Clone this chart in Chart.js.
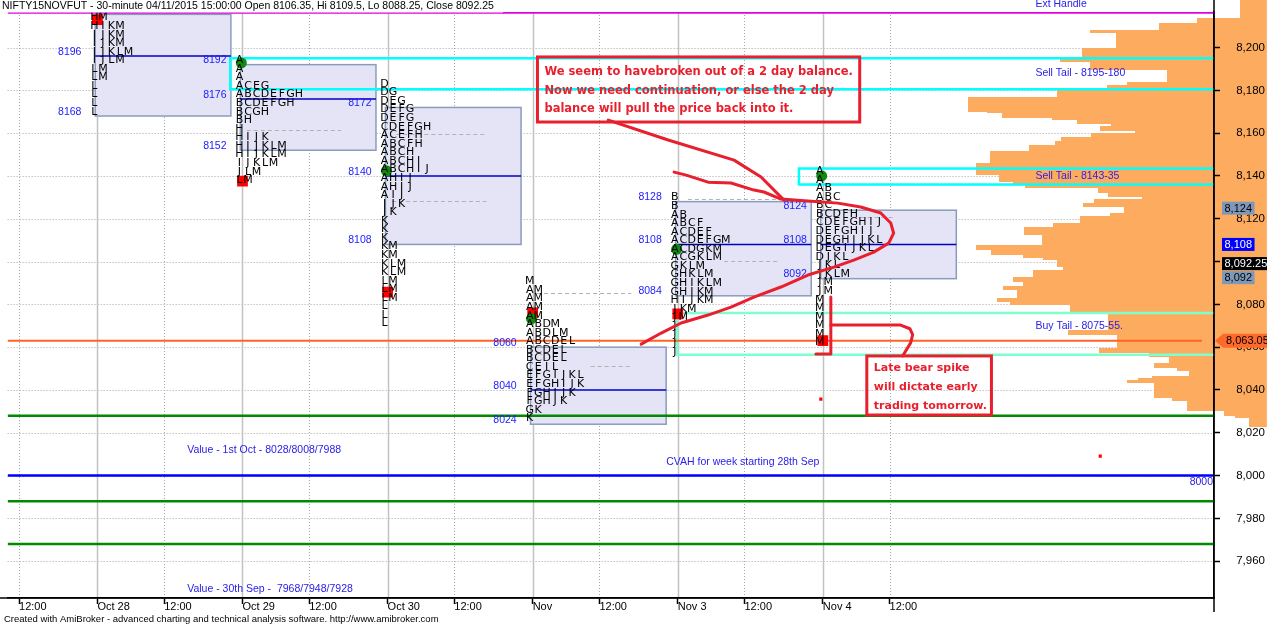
<!DOCTYPE html>
<html><head><meta charset="utf-8">
<script src="https://cdn.jsdelivr.net/npm/chart.js@4.4.1/dist/chart.umd.min.js"></script>
<style>html,body{margin:0;padding:0;background:#fff;overflow:hidden}</style>
</head><body>
<canvas id="c" width="1267" height="626" style="width:1267px;height:626px;display:block"></canvas>
<script>
// ---------- axes ----------
const X_MIN = 0.381, X_MAX = 8.696;          // days (Oct 28 = 1)
const Y_MIN = 7942.8, Y_MAX = 8216.6;
const xTickValues = [0.46,1,1.46,2,2.46,3,3.46,4,4.46,5,5.46,6,6.46];
const xTickLabels = ['12:00','Oct 28','12:00','Oct 29','12:00','Oct 30','12:00','Nov','12:00','Nov 3','12:00','Nov 4','12:00'];
const yTickValues = [7960,7980,8000,8020,8040,8060,8080,8100,8120,8140,8160,8180,8200];

// ---------- TPO profiles ----------
const dayPos = [1,2,3,4,5,6];
const tpoTop = [8214, 8194, 8183, 8090.7, 8129.9, 8142.2];
const tpoStep = 4;
const tpoOct28 = ['HM','HIKM','IJKM','IJKM','IJKLM','IJLM','LM','LM','L','L','L','L'];
const tpoOct29 = ['A','A','A','ACEG','ABCDEFGH','BCDEFGH','BCGH','BH','H','HIJK','HIJKLM','HIJKLM','IJKLM','JLM','LM'];
const tpoOct30 = ['D','DG','DEG','DEFG','DEFG','CDEFGH','ACEFH','ABCFH','ABCH','ABCHI','ABCHIJ','AHIJ','AHIJ','AIJ','IJK','JK','K','K','K','KM','KM','KLM','KLM','LM','LM','LM','L','L','L'];
const tpoNov2  = ['M','AM','AM','AM','AM','ABDM','ABDLM','ABCDEL','BCDEL','BCDEL','CEIL','EFGIJKL','EFGHIJK','FGHIJK','FGHJK','GK','K'];
const tpoNov3  = ['B','B','AB','ABCF','ACDEF','ACDEFGM','ACDGKM','ACGKLM','GKLM','GHKLM','GHIKLM','GHIKM','HIJKM','JKM','JM','J','J','J','J'];
const tpoNov4  = ['A','A','AB','ABC','BC','BCDFH','CDEFGHIJ','DEFGHIJ','DEGHIJKL','DEGIJKL','DJKL','JKL','JKLM','JM','JM','M','M','M','M','M','M'];
const tpoRows = [tpoOct28, tpoOct29, tpoOct30, tpoNov2, tpoNov3, tpoNov4];

// value areas
const vaHigh = [8215.5, 8192, 8172, 8060, 8128, 8124];
const vaPoc  = [8196, 8176, 8140, 8040, 8108, 8108];
const vaLow  = [8168, 8152, 8108, 8024, 8084, 8092];
const vaHighShown = [false, true, true, true, true, true];

// open / close markers
const openDay = [2,3,4,5,6];
const openPrice = [8192.8, 8142.4, 8073.3, 8105.7, 8140];
const closeDay = [1,2,3,4,5,6];
const closePrice = [8213, 8137.6, 8085.7, 8076, 8075.5, 8063];
const strayDay = [5.986, 7.912];
const strayPrice = [8035.7, 8009.1];

// half-back dashed marks
const midStart = [2.03, 3.06, 3.03, 4.03, 4.40, 5.07, 5.32, 6.26];
const midEnd   = [2.68, 3.68, 3.68, 4.68, 4.68, 5.69, 5.69, 6.49];
const midPrice = [8161.4, 8159.6, 8128.3, 8085.5, 8051.0, 8129.0, 8100.4, 8120.8];

// ---------- volume profile (right side) ----------
const vpTop = [8222.2,8213.6,8211.3,8208.2,8206.6,8199.6,8195.7,8193.4,8189.5,8184.0,8182.5,8180.5,8177.0,8170.0,8169.3,8166.9,8166.1,8164.3,8163.3,8161.0,8159.9,8158.3,8156.4,8154.4,8151.8,8145.9,8140.4,8137.3,8136.1,8134.2,8131.9,8130.3,8129.1,8127.2,8125.6,8122.8,8121.3,8118.1,8116.3,8112.4,8107.7,8105.4,8103.0,8101.5,8100.7,8097.6,8096.0,8092.9,8090.6,8088.6,8086.7,8082.8,8081.2,8079.7,8076.5,8068.0,8065.7,8059.4,8057.1,8055.5,8052.4,8050.1,8049.0,8046.5,8045.7,8044.6,8043.4,8036.4,8034.8,8030.1,8027.8,8026.7];
const vpBottom = 8022.5;
const vpVol = [27,70,108,177,151,185,207,177,100,140,160,210,300,280,265,215,190,156,167,132,176,206,212,238,277,292,268,254,242,169,159,125,173,184,143,157,187,214,243,225,292,276,244,224,210,204,234,254,244,264,250,270,257,197,159,199,150,168,118,98,113,90,78,115,129,140,113,95,80,43,32,18];

// ---------- reference levels ----------
const greenLevels = [8028, 7988, 7968];
const cvahLevel = 8000;
const lastPrice = 8063.05;
const extHandle = 8216.2;
const sellTail1 = [8195, 8180.5], sellTail1Start = 1.915;
const sellTail2 = [8143.5, 8136], sellTail2Start = 5.835;
const buyTail = [8076, 8056.5], buyTailStart = 4.996;

// ---------- texts ----------
const blueTexts = ['Value - 1st Oct - 8028/8008/7988','Value - 30th Sep -  7968/7948/7928','CVAH for week starting 28th Sep','Sell Tail - 8195-180','Sell Tail - 8143-35','Buy Tail - 8075-55.','Ext Handle'];
const blueTextDay = [1.619, 1.619, 4.920, 7.465, 7.465, 7.465, 7.465];
const blueTextPrice = [8011.9, 7946.9, 8006.3, 8188.1, 8140.0, 8069.9, 8220.3];

const note1Lines = ['We seem to havebroken out of a 2 day balance.','Now we need continuation, or else the 2 day','balance will pull the price back into it.'];
const note2Lines = ['Late bear spike','will dictate early','trading tomorrow.'];
const noteBoxDay0 = [4.033, 6.303], noteBoxDay1 = [6.254, 7.162];
const noteBoxHi = [8195.6, 8055.9], noteBoxLo = [8165.2, 8028.3];
const noteTextDay = [4.081, 6.351];
const noteTextPrice = [[8188.6, 8179.9, 8171.3],[8050.2, 8041.4, 8032.5]];
const noteFontSize = [11.5, 11];

// hand-drawn red strokes, [day, price]
const strokePointer = [[4.521,8166.1],[4.934,8156.8],[5.388,8147.4],[5.574,8139.5],[5.732,8128.7]];
const strokeLoop = [[4.975,8141.8],[5.058,8140.4],[5.209,8137.1],[5.367,8136.7],[5.525,8133.4],[5.594,8132.5],[5.711,8129.2],[5.897,8128.3],[6.103,8127.3],[6.261,8125.5],[6.399,8122.7],[6.468,8118.0],[6.488,8113.3],[6.454,8108.6],[6.351,8104.4],[6.213,8100.7],[6.076,8097.4],[5.897,8093.7],[5.711,8088.1],[5.525,8083.4],[5.367,8078.7],[5.209,8075.0],[5.023,8071.3],[4.886,8066.6],[4.748,8061.4]];
const strokeBracket = [[6.055,8083.4],[6.055,8056.8],[5.952,8056.8]];
const strokeHook = [[6.055,8070.3],[6.536,8070.3],[6.600,8068.6],[6.619,8065.9],[6.605,8062.0],[6.550,8055.9]];

// right-axis value tags
const tagValue = [8124, 8108, 8092.25, 8092, 8063.05];
const tagText = ['8,124','8,108','8,092.25','8,092','8,063.05'];
const tagBg = ['#7f98b9','#0000ff','#000000','#7f98b9','#ff6a2b'];
const tagFg = ['#000','#fff','#fff','#000','#000'];
const tagShift = [-2, 0, -14.5, -1, 0];

const titleText = 'NIFTY15NOVFUT - 30-minute 04/11/2015 15:00:00 Open 8106.35, Hi 8109.5, Lo 8088.25, Close 8092.25';
const footerText = 'Created with AmiBroker - advanced charting and technical analysis software. http://www.amibroker.com';

// ---------- helpers ----------
const hLine = (v) => [{x: X_MIN, y: v}, {x: X_MAX, y: v}];
const tailBox = (lv, start) => [{x: X_MAX, y: lv[0]}, {x: start, y: lv[0]}, {x: start, y: lv[1]}, {x: X_MAX, y: lv[1]}];
const lineDs = (data, color, w) => ({type:'scatter', data, showLine:true, borderColor:color, borderWidth:w, pointRadius:0, fill:false, tension:0, order:10});

const RED = '#e8202e';
const AX_FONT = '11px "Liberation Sans", Arial, sans-serif';

const backPlugin = {
  id: 'back',
  beforeDraw(chart) {
    const {ctx, chartArea: a, scales: {x, y, v}} = chart;
    ctx.save();
    ctx.fillStyle = '#fff'; ctx.fillRect(0, 0, chart.width, chart.height);
    ctx.lineWidth = 1;
    ctx.strokeStyle = '#a6a6a6'; ctx.setLineDash([1, 2]);
    yTickValues.forEach(val => {
      const py = Math.round(y.getPixelForValue(val)) + 0.5;
      ctx.beginPath(); ctx.moveTo(a.left, py); ctx.lineTo(a.right, py); ctx.stroke();
    });
    xTickValues.forEach((val, i) => {
      const px = Math.round(x.getPixelForValue(val)) + 0.5;
      if (xTickLabels[i] === '12:00') { ctx.strokeStyle = '#a6a6a6'; ctx.setLineDash([1, 2]); ctx.lineWidth = 1; }
      else { ctx.strokeStyle = '#c2c2c2'; ctx.setLineDash([]); ctx.lineWidth = 1.5; }
      ctx.beginPath(); ctx.moveTo(px, a.top); ctx.lineTo(px, a.bottom); ctx.stroke();
    });
    ctx.setLineDash([]);
    ctx.fillStyle = '#fdac5f';
    const right = v.getPixelForValue(0);
    vpTop.forEach((t, i) => {
      const top = Math.round(y.getPixelForValue(t));
      const bot = Math.round(y.getPixelForValue(i + 1 < vpTop.length ? vpTop[i + 1] : vpBottom));
      const left = Math.round(v.getPixelForValue(vpVol[i]));
      ctx.fillRect(left, top, right - left, bot - top);
    });
    ctx.restore();
  },
  beforeDatasetsDraw(chart) {
    const {ctx, scales: {x, y}} = chart;
    ctx.save();
    dayPos.forEach((d, i) => {
      const x0 = x.getPixelForValue(d - 0.015), x1 = x.getPixelForValue(d + 0.92);
      const y0 = y.getPixelForValue(vaHigh[i]), y1 = y.getPixelForValue(vaLow[i]);
      ctx.fillStyle = '#e4e4f6'; ctx.fillRect(x0, y0, x1 - x0, y1 - y0);
      ctx.strokeStyle = '#8a9cbc'; ctx.lineWidth = 1.5; ctx.strokeRect(x0, y0, x1 - x0, y1 - y0);
      const yp = y.getPixelForValue(vaPoc[i]);
      ctx.strokeStyle = '#0000c8'; ctx.lineWidth = 1.5;
      ctx.beginPath(); ctx.moveTo(x0, yp); ctx.lineTo(x1, yp); ctx.stroke();
    });
    ctx.strokeStyle = '#b2b2b2'; ctx.lineWidth = 1; ctx.setLineDash([4, 3]);
    midPrice.forEach((p, i) => {
      const py = Math.round(y.getPixelForValue(p)) + 0.5;
      ctx.beginPath(); ctx.moveTo(x.getPixelForValue(midStart[i]), py); ctx.lineTo(x.getPixelForValue(midEnd[i]), py); ctx.stroke();
    });
    ctx.restore();
  },
  afterDatasetsDraw(chart) {
    const {ctx, chartArea: a, scales: {x, y}} = chart;
    ctx.save();
    ctx.font = '11px "DejaVu Sans", sans-serif'; ctx.fillStyle = '#000';
    ctx.textAlign = 'center'; ctx.textBaseline = 'middle';
    tpoRows.forEach((rows, d) => {
      const px0 = x.getPixelForValue(dayPos[d]) - 3;
      rows.forEach((row, r) => {
        const py = y.getPixelForValue(tpoTop[d] - r * tpoStep);
        [...row].forEach((ch, k) => ctx.fillText(ch, px0 + k * 8.5, py));
      });
    });
    ctx.font = '10.5px "Liberation Sans", Arial, sans-serif'; ctx.fillStyle = '#1a1aff';
    ctx.textAlign = 'right'; ctx.textBaseline = 'bottom';
    dayPos.forEach((d, i) => {
      const lx = x.getPixelForValue(d) - 16;
      if (vaHighShown[i]) ctx.fillText(String(vaHigh[i]), lx, y.getPixelForValue(vaHigh[i]) + 1);
      ctx.fillText(String(vaPoc[i]), lx, y.getPixelForValue(vaPoc[i]) + 1);
      ctx.fillText(String(vaLow[i]), lx, y.getPixelForValue(vaLow[i]) + 1);
    });
    ctx.font = '10.5px "Liberation Sans", Arial, sans-serif'; ctx.fillStyle = '#2a20e8';
    ctx.textAlign = 'left'; ctx.textBaseline = 'middle';
    blueTexts.forEach((t, i) => ctx.fillText(t, x.getPixelForValue(blueTextDay[i]), y.getPixelForValue(blueTextPrice[i])));
    ctx.textAlign = 'right';
    ctx.fillText(String(cvahLevel), a.right - 1, y.getPixelForValue(cvahLevel) + 7);
    ctx.strokeStyle = RED; ctx.lineWidth = 3; ctx.lineJoin = 'round'; ctx.lineCap = 'round';
    [strokePointer, strokeLoop, strokeBracket, strokeHook].forEach(s => {
      ctx.beginPath();
      s.forEach((p, k) => { const px = x.getPixelForValue(p[0]), py = y.getPixelForValue(p[1]); k ? ctx.lineTo(px, py) : ctx.moveTo(px, py); });
      ctx.stroke();
    });
    ctx.lineCap = 'butt'; ctx.lineJoin = 'miter';
    [note1Lines, note2Lines].forEach((lines, n) => {
      const x0 = x.getPixelForValue(noteBoxDay0[n]), x1 = x.getPixelForValue(noteBoxDay1[n]);
      const y0 = y.getPixelForValue(noteBoxHi[n]), y1 = y.getPixelForValue(noteBoxLo[n]);
      ctx.strokeRect(x0, y0, x1 - x0, y1 - y0);
      ctx.font = 'bold ' + noteFontSize[n] + 'px "DejaVu Sans", sans-serif'; ctx.fillStyle = RED;
      ctx.textAlign = 'left'; ctx.textBaseline = 'middle';
      lines.forEach((t, k) => ctx.fillText(t, x.getPixelForValue(noteTextDay[n]), y.getPixelForValue(noteTextPrice[n][k])));
    });
    ctx.restore();
  },
  afterDraw(chart) {
    const {ctx, chartArea: a, scales: {y}} = chart;
    ctx.save();
    ctx.strokeStyle = '#000'; ctx.lineWidth = 1.5;
    ctx.beginPath(); ctx.moveTo(a.right, 0); ctx.lineTo(a.right, a.bottom + 14); ctx.stroke();
    ctx.beginPath(); ctx.moveTo(0, a.bottom); ctx.lineTo(a.right, a.bottom); ctx.stroke();
    ctx.font = AX_FONT; ctx.textBaseline = 'middle'; ctx.textAlign = 'left';
    tagValue.forEach((val, i) => {
      const cy = y.getPixelForValue(val) + tagShift[i];
      const w = ctx.measureText(tagText[i]).width;
      ctx.fillStyle = tagBg[i];
      if (i === tagValue.length - 1) {
        const tip = a.right + 1, bx = a.right + 9;
        ctx.beginPath(); ctx.moveTo(tip, cy); ctx.lineTo(bx, cy - 7); ctx.lineTo(chart.width, cy - 7);
        ctx.lineTo(chart.width, cy + 7); ctx.lineTo(bx, cy + 7); ctx.closePath(); ctx.fill();
        ctx.fillStyle = tagFg[i]; ctx.fillText(tagText[i], bx + 3, cy + 0.5);
      } else {
        const bx = a.right + 8;
        ctx.fillRect(bx, cy - 6.5, w + 5, 13);
        ctx.fillStyle = tagFg[i]; ctx.fillText(tagText[i], bx + 2.5, cy + 0.5);
      }
    });
    ctx.fillStyle = '#fff'; ctx.fillRect(0, 0, 503, 12.5);
    ctx.fillStyle = '#000'; ctx.font = '10.5px "Liberation Sans", Arial, sans-serif';
    ctx.textAlign = 'left'; ctx.textBaseline = 'middle';
    ctx.fillText(titleText, 2, 6.5);
    ctx.font = '9.5px "Liberation Sans", Arial, sans-serif';
    ctx.fillText(footerText, 4, 619);
    ctx.restore();
  }
};

const datasets = [
  {type:'scatter', label:'open', data: openDay.map((d, i) => ({x: d - 0.008, y: openPrice[i]})), pointStyle:'circle', pointRadius:5.5, backgroundColor:'#0f8a0f', borderWidth:0, order:0},
  {type:'scatter', label:'close', data: closeDay.map((d, i) => ({x: d, y: closePrice[i]})), pointStyle:'rect', pointRadius:7.6, backgroundColor:'#ff0000', borderWidth:0, order:1},
  {type:'scatter', label:'stray', data: strayDay.map((d, i) => ({x: d, y: strayPrice[i]})), pointStyle:'rect', pointRadius:2.2, backgroundColor:'#ff0000', borderWidth:0, order:1},
  ...greenLevels.map(v => lineDs(hLine(v), '#008a00', 2.5)),
  lineDs(hLine(cvahLevel), '#0000ff', 2.5),
  lineDs([{x: X_MIN, y: lastPrice}, {x: 8.613, y: lastPrice}], '#ff6424', 2),
  lineDs(hLine(extHandle), '#e000e0', 2),
  lineDs(tailBox(sellTail1, sellTail1Start), '#00ffff', 2.5),
  lineDs(tailBox(sellTail2, sellTail2Start), '#00ffff', 2.5),
  lineDs(tailBox(buyTail, buyTailStart), '#7fffd0', 2.5)
];

new Chart(document.getElementById('c'), {
  type: 'scatter',
  data: { datasets },
  options: {
    responsive: false, animation: false, events: [],
    layout: { padding: { left: 5, top: 12, right: 2, bottom: 0 } },
    plugins: { legend: { display: false }, tooltip: { enabled: false } },
    scales: {
      x: {
        type: 'linear', position: 'bottom', min: X_MIN, max: X_MAX,
        afterBuildTicks: s => { s.ticks = xTickValues.map(v => ({ value: v })); },
        afterFit: s => { s.height = 28; },
        ticks: { callback: (v, i) => xTickLabels[i], autoSkip: false, maxRotation: 0, minRotation: 0, align: 'start',
                 font: { family: '"Liberation Sans", Arial, sans-serif', size: 11 }, color: '#000', padding: -4 },
        grid: { drawOnChartArea: false, drawTicks: true, tickLength: 6, tickColor: '#000', tickWidth: 1.5 },
        border: { display: true, color: '#000', width: 1.5 }
      },
      y: {
        type: 'linear', position: 'right', min: Y_MIN, max: Y_MAX,
        afterBuildTicks: s => { s.ticks = yTickValues.map(v => ({ value: v })); },
        afterFit: s => { s.width = 51; },
        ticks: { callback: v => Number(v).toLocaleString('en-US'), crossAlign: 'far',
                 font: { family: '"Liberation Sans", Arial, sans-serif', size: 11.5 }, color: '#000' },
        grid: { drawOnChartArea: false, drawTicks: true, tickLength: 6, tickColor: '#000', tickWidth: 1.5 },
        border: { display: true, color: '#000', width: 1.5 }
      },
      v: { type: 'linear', axis: 'x', position: 'bottom', display: false, reverse: true, min: 53, max: 1262 }
    }
  },
  plugins: [backPlugin]
});
</script>
</body></html>
